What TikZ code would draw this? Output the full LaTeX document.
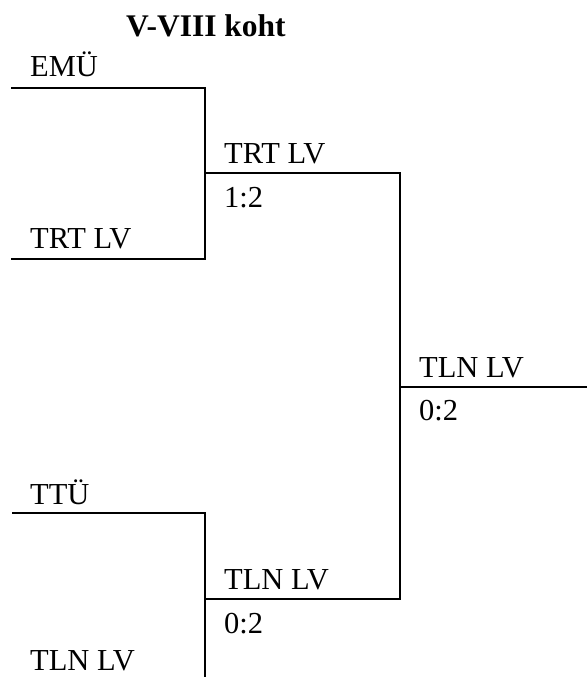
\documentclass[tikz,border=0pt]{standalone}
\usepackage{fontspec}
\setmainfont{Liberation Serif}
\begin{document}
\begin{tikzpicture}[x=1pt,y=-1pt,
  lbl/.style={anchor=base west,inner sep=0pt,font=\fontsize{30.5}{35}\selectfont},
  ttl/.style={anchor=base,inner sep=0pt,font=\fontsize{31.5}{37}\selectfont\bfseries},
  brk/.style={line width=2pt,line cap=rect}]
\useasboundingbox (0,0) rectangle (587,677);
% title
\node[ttl] (title) at (206,37) {V-VIII koht};
% coordinates of bracket
\coordinate (a0) at (12,88);
\coordinate (a1) at (205,88);
\coordinate (b0) at (12,259);
\coordinate (b1) at (205,259);
\coordinate (m1a) at (205,173);
\coordinate (m1b) at (400,173);
\coordinate (c0) at (12,513);
\coordinate (c1) at (205,513);
\coordinate (d1) at (205,677);
\coordinate (m2a) at (205,599);
\coordinate (m2b) at (400,599);
\coordinate (fa) at (400,387);
\coordinate (fb) at (587,387);
% bracket lines
\draw[brk] (a0) -- (a1) -- (b1) -- (b0);
\draw[brk] (m1a) -- (m1b) -- (m2b) -- (m2a);
\draw[brk,line cap=butt] (c0) -- (c1) -- (d1);
\draw[brk,line cap=butt] (fa) -- (fb);
% labels
\node[lbl] (t1) at (30,77) {EMÜ};
\node[lbl] (t2) at (30,248) {TRT LV};
\node[lbl] (t3) at (30,504) {TTÜ};
\node[lbl] (t4) at (30,670) {TLN LV};
\node[lbl] (w1) at (224,163) {TRT LV};
\node[lbl] (s1) at (224,207) {1:2};
\node[lbl] (w2) at (224,589) {TLN LV};
\node[lbl] (s2) at (224,633) {0:2};
\node[lbl] (w3) at (419,377) {TLN LV};
\node[lbl] (s3) at (419,420) {0:2};
\end{tikzpicture}
\end{document}
